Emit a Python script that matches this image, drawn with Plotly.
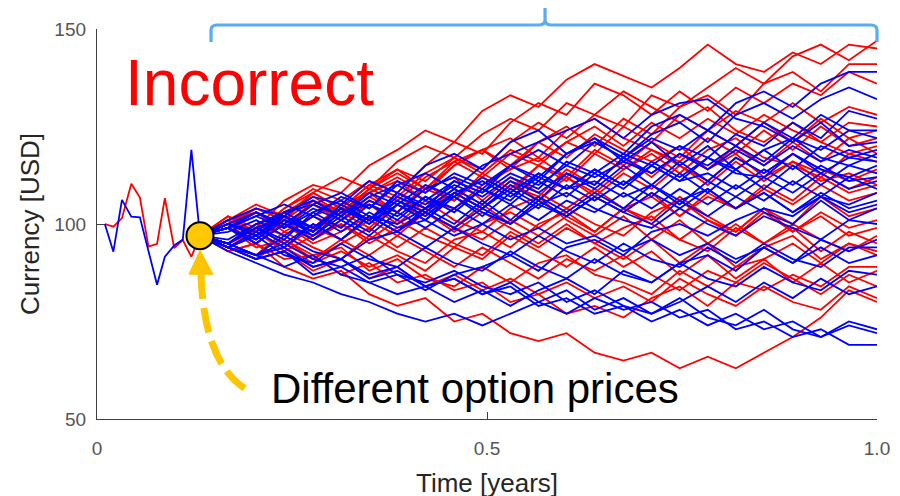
import plotly.graph_objects as go

# ---------------- data ----------------
T_PRE = [0.010, 0.021, 0.032, 0.044, 0.055, 0.066, 0.077, 0.087, 0.099, 0.110, 0.121, 0.132]
RED_PRE = [100, 99.3, 101.5, 110.3, 106.8, 94.2, 94.9, 106.6, 93.8, 95.9, 91.6, 97]
BLUE_PRE = [100, 92.9, 106.2, 101.9, 101.7, 93.0, 84.4, 91.6, 94.5, 96.0, 119.0, 97]

T = [0.132, 0.168, 0.204, 0.240, 0.277, 0.313, 0.349, 0.385, 0.421, 0.458, 0.494, 0.530, 0.566,
     0.602, 0.638, 0.675, 0.711, 0.747, 0.783, 0.819, 0.855, 0.892, 0.928, 0.964, 1.000]

RED_PATHS = [
    [97, 102, 99, 106, 110, 108, 115, 119, 124, 121, 129, 133, 130, 137, 141, 138, 135, 140, 146, 141, 139, 144, 141, 146, 145],
    [97, 100, 104, 101, 106, 103, 109, 114, 111, 117, 114, 121, 126, 122, 128, 125, 133, 130, 135, 140, 136, 143, 146, 142, 147],
    [97, 101, 98, 104, 109, 106, 111, 108, 115, 121, 118, 126, 131, 128, 136, 133, 128, 134, 129, 135, 131, 136, 133, 139, 136],
    [97, 99, 103, 99, 105, 102, 109, 106, 112, 116, 112, 118, 115, 121, 118, 125, 121, 128, 124, 129, 126, 131, 126, 130, 128],
    [97, 95, 100, 97, 102, 99, 106, 103, 109, 106, 112, 108, 115, 112, 119, 115, 121, 117, 124, 120, 126, 121, 127, 122, 124],
    [97, 101, 105, 102, 108, 112, 109, 116, 120, 117, 123, 127, 124, 131, 128, 134, 130, 126, 130, 124, 121, 126, 121, 118, 120],
    [97, 100, 95, 101, 98, 103, 99, 105, 102, 108, 104, 110, 107, 114, 110, 117, 112, 118, 114, 120, 115, 121, 116, 122, 118],
    [97, 99, 103, 100, 105, 101, 107, 103, 110, 106, 113, 109, 115, 111, 118, 114, 119, 115, 111, 117, 113, 118, 114, 111, 114],
    [97, 100, 97, 102, 99, 105, 101, 107, 103, 109, 105, 111, 106, 112, 107, 113, 109, 115, 110, 116, 111, 116, 113, 109, 112],
    [97, 95, 98, 94, 99, 96, 101, 97, 103, 99, 105, 100, 106, 102, 107, 103, 108, 102, 107, 104, 109, 105, 110, 106, 108],
    [97, 94, 98, 93, 97, 100, 96, 101, 97, 94, 100, 103, 99, 104, 100, 97, 103, 106, 101, 98, 104, 100, 107, 102, 104],
    [97, 100, 103, 98, 102, 105, 108, 103, 109, 112, 106, 112, 108, 104, 109, 104, 101, 107, 102, 98, 104, 98, 103, 99, 101],
    [97, 95, 99, 101, 96, 100, 95, 99, 103, 98, 103, 99, 95, 100, 95, 99, 102, 96, 93, 99, 95, 100, 96, 93, 97],
    [97, 99, 95, 100, 96, 101, 105, 100, 106, 101, 98, 104, 107, 101, 97, 102, 96, 101, 95, 100, 95, 99, 93, 98, 95],
    [97, 94, 91, 96, 91, 95, 99, 94, 99, 95, 92, 98, 94, 99, 95, 91, 96, 90, 95, 89, 94, 97, 91, 95, 93],
    [97, 95, 92, 94, 90, 93, 89, 92, 88, 94, 91, 97, 93, 89, 94, 89, 93, 87, 92, 86, 91, 85, 90, 85, 88],
    [97, 94, 91, 93, 88, 91, 86, 89, 84, 87, 83, 86, 82, 85, 81, 84, 80, 86, 82, 79, 84, 80, 78, 84, 81],
    [97, 93, 95, 89, 86, 88, 82, 79, 81, 75, 77, 72, 70, 72, 67, 65, 67, 63, 66, 63, 67, 71, 76, 83, 80],
    [97, 93, 95, 91, 92, 87, 90, 85, 87, 83, 85, 80, 82, 77, 79, 76, 81, 84, 79, 85, 83, 87, 84, 89, 89],
    [97, 101, 97, 103, 106, 103, 108, 112, 108, 115, 119, 114, 121, 125, 120, 127, 123, 130, 133, 128, 136, 139, 134, 141, 141],
    [97, 99, 94, 96, 92, 94, 88, 91, 86, 84, 89, 85, 90, 92, 87, 85, 82, 88, 84, 89, 91, 95, 90, 95, 92],
    [97, 100, 104, 101, 108, 104, 110, 114, 109, 116, 119, 122, 117, 124, 127, 122, 119, 116, 122, 118, 124, 119, 125, 120, 122],
    [97, 95, 92, 98, 94, 91, 97, 93, 90, 96, 98, 94, 100, 103, 98, 104, 107, 102, 108, 104, 110, 106, 112, 108, 110],
    [97, 101, 103, 99, 106, 102, 108, 111, 106, 104, 110, 114, 117, 112, 108, 114, 118, 113, 119, 122, 117, 115, 112, 118, 116],
    [97, 102, 98, 104, 108, 104, 110, 107, 113, 117, 113, 119, 116, 121, 125, 120, 126, 122, 127, 123, 128, 124, 121, 126, 125],
    [97, 94, 97, 100, 95, 98, 102, 98, 103, 99, 96, 101, 97, 102, 98, 104, 100, 96, 101, 97, 103, 98, 102, 97, 99],
    [97, 100, 98, 103, 107, 103, 109, 113, 109, 115, 119, 115, 121, 117, 123, 119, 116, 120, 114, 118, 112, 116, 111, 113, 110],
    [97, 95, 99, 95, 91, 96, 92, 97, 93, 89, 94, 90, 86, 91, 88, 92, 87, 83, 88, 85, 90, 86, 82, 87, 84],
]

BLUE_PATHS = [
    [97, 99, 102, 99, 104, 101, 106, 103, 109, 112, 109, 115, 112, 118, 122, 118, 125, 128, 124, 131, 134, 130, 136, 139, 139],
    [97, 95, 100, 102, 98, 104, 101, 108, 104, 111, 108, 115, 111, 118, 121, 117, 123, 126, 121, 128, 131, 127, 132, 135, 132],
    [97, 100, 97, 102, 99, 104, 101, 108, 105, 110, 107, 112, 109, 116, 113, 118, 115, 120, 117, 123, 120, 126, 122, 129, 127],
    [97, 99, 96, 101, 98, 105, 101, 107, 104, 109, 105, 111, 108, 113, 110, 117, 113, 118, 115, 120, 116, 122, 119, 124, 122],
    [97, 95, 99, 96, 103, 99, 105, 102, 107, 104, 109, 106, 113, 109, 114, 110, 116, 112, 117, 114, 119, 114, 120, 117, 119],
    [97, 100, 97, 102, 99, 104, 100, 106, 102, 108, 104, 110, 106, 113, 109, 115, 110, 116, 111, 117, 113, 118, 113, 117, 116],
    [97, 99, 95, 100, 97, 102, 98, 105, 101, 107, 102, 108, 104, 110, 106, 111, 107, 113, 108, 114, 109, 115, 110, 115, 113],
    [97, 94, 98, 94, 100, 96, 102, 98, 104, 100, 106, 101, 107, 103, 108, 104, 110, 105, 111, 107, 112, 108, 113, 109, 111],
    [97, 99, 95, 100, 96, 101, 97, 103, 99, 104, 100, 105, 101, 106, 103, 108, 104, 109, 105, 110, 106, 111, 107, 112, 109],
    [97, 95, 99, 95, 100, 96, 102, 98, 103, 99, 104, 100, 106, 102, 107, 103, 108, 104, 109, 104, 108, 103, 108, 104, 106],
    [97, 99, 96, 102, 98, 104, 100, 105, 101, 108, 104, 109, 105, 102, 107, 103, 100, 106, 102, 107, 103, 100, 106, 101, 104],
    [97, 95, 92, 97, 93, 91, 96, 98, 94, 99, 95, 92, 97, 93, 90, 95, 91, 89, 94, 90, 95, 91, 89, 94, 94],
    [97, 94, 97, 92, 90, 95, 91, 89, 94, 90, 88, 93, 89, 86, 91, 87, 85, 90, 86, 84, 89, 85, 83, 88, 87],
    [97, 94, 91, 93, 89, 91, 86, 88, 84, 86, 82, 85, 80, 83, 78, 81, 77, 80, 84, 80, 85, 81, 86, 82, 84],
    [97, 95, 92, 94, 89, 91, 87, 89, 84, 86, 82, 84, 79, 81, 77, 79, 75, 78, 74, 77, 73, 75, 71, 74, 72],
    [97, 93, 90, 87, 85, 82, 80, 77, 75, 77, 74, 77, 80, 77, 81, 78, 80, 76, 78, 73, 75, 71, 73, 69, 69],
    [97, 95, 92, 95, 91, 89, 92, 87, 85, 88, 84, 82, 85, 80, 83, 79, 77, 81, 76, 74, 78, 73, 71, 75, 73],
    [97, 100, 103, 99, 103, 106, 102, 100, 104, 107, 103, 100, 105, 108, 104, 101, 99, 104, 100, 97, 102, 99, 96, 101, 100],
    [97, 99, 102, 105, 102, 107, 104, 111, 108, 113, 110, 115, 119, 115, 121, 117, 122, 119, 124, 120, 126, 122, 128, 124, 124],
    [97, 95, 99, 102, 97, 103, 105, 101, 107, 103, 109, 105, 111, 107, 113, 109, 115, 111, 117, 113, 112, 118, 114, 112, 115],
    [97, 101, 104, 102, 107, 105, 111, 108, 115, 118, 114, 121, 124, 118, 122, 116, 121, 115, 120, 114, 119, 122, 117, 115, 118],
    [97, 94, 91, 93, 87, 89, 85, 87, 83, 87, 89, 92, 88, 94, 96, 92, 98, 100, 97, 101, 104, 102, 107, 105, 108],
    [97, 100, 97, 103, 105, 108, 104, 110, 113, 109, 115, 118, 121, 124, 127, 122, 128, 131, 132, 127, 125, 121, 126, 120, 121],
    [97, 94, 92, 89, 92, 87, 85, 82, 84, 80, 83, 79, 83, 86, 82, 88, 85, 90, 92, 88, 94, 90, 96, 93, 96],
    [97, 99, 103, 100, 105, 102, 107, 110, 106, 111, 108, 113, 110, 115, 112, 116, 113, 118, 114, 119, 115, 120, 116, 119, 117],
    [97, 96, 100, 103, 99, 104, 101, 106, 103, 108, 111, 107, 112, 109, 114, 110, 115, 111, 113, 109, 114, 110, 115, 111, 112],
    [97, 100, 98, 103, 106, 102, 108, 105, 110, 107, 112, 108, 113, 109, 111, 107, 110, 106, 109, 104, 108, 103, 107, 103, 105],
    [97, 98, 101, 97, 102, 98, 103, 99, 101, 97, 100, 96, 99, 95, 97, 93, 96, 92, 95, 91, 94, 90, 94, 90, 92],
]

DOT_T = [0.132]
DOT_V = [97]

X_TICKS = [0, 0.5, 1.0]
X_TICKTEXT = ["0", "0.5", "1.0"]
Y_TICKS = [50, 100, 150]
Y_TICKTEXT = ["50", "100", "150"]

RED = "#FF0000"
BLUE = "#0000FF"
FONT = "Liberation Sans, Arial, Helvetica, sans-serif"
LW = 1.8

# ---------------- figure ----------------
fig = go.Figure()

for p in RED_PATHS:
    fig.add_trace(go.Scatter(x=T, y=p, mode="lines", line=dict(color=RED, width=LW),
                             showlegend=False, hoverinfo="skip"))
for p in BLUE_PATHS:
    fig.add_trace(go.Scatter(x=T, y=p, mode="lines", line=dict(color=BLUE, width=LW),
                             showlegend=False, hoverinfo="skip"))

fig.add_trace(go.Scatter(x=T_PRE, y=RED_PRE, mode="lines", line=dict(color=RED, width=LW),
                         showlegend=False, hoverinfo="skip"))
fig.add_trace(go.Scatter(x=T_PRE, y=BLUE_PRE, mode="lines", line=dict(color=BLUE, width=LW),
                         showlegend=False, hoverinfo="skip"))

fig.add_trace(go.Scatter(x=DOT_T, y=DOT_V, mode="markers",
                         marker=dict(size=27, color="#FFC800", line=dict(color="black", width=2)),
                         showlegend=False, hoverinfo="skip"))

shapes = [
    # dashed curved arrow shaft (data coordinates)
    dict(type="path", xref="x", yref="y",
         path="M 0.1333,87.2 C 0.1359,70.15 0.1603,61.17 0.1936,57.32",
         line=dict(color="#FFC400", width=7, dash="25px,9px"), layer="above"),
    # arrow head
    dict(type="path", xref="x", yref="y",
         path="M 0.1179,87.1 L 0.1487,87.1 L 0.1321,93.3 Z",
         fillcolor="#FFC400", line=dict(color="#FFC400", width=1), layer="above"),
    # blue bracket above the plot (paper coordinates)
    dict(type="path", xref="paper", yref="paper",
         path=("M 0.1462,0.9666 L 0.1462,0.9975 Q 0.1462,1.0103 0.1540,1.0103 "
               "L 0.5660,1.0103 Q 0.5744,1.0103 0.5744,1.0240 L 0.5744,1.0590 "
               "M 0.5744,1.0240 Q 0.5744,1.0103 0.5828,1.0103 "
               "L 0.9922,1.0103 Q 1.0,1.0103 1.0,0.9975 L 1.0,0.9666"),
         line=dict(color="#5AAAF5", width=3.2), layer="above"),
]

annotations = [
    dict(text="Incorrect", xref="paper", yref="paper", x=0.0333, y=0.861,
         xanchor="left", yanchor="middle", showarrow=False,
         font=dict(family=FONT, size=64, color=RED)),
    dict(text="Different option prices", xref="paper", yref="paper", x=0.2205, y=0.078,
         xanchor="left", yanchor="middle", showarrow=False,
         font=dict(family=FONT, size=42, color="black")),
]

axis_common = dict(showline=True, linecolor="#404040", linewidth=1.3, ticks="inside",
                   ticklen=7, tickwidth=1.3, tickcolor="#404040", showgrid=False,
                   zeroline=False, mirror=False,
                   tickfont=dict(family=FONT, size=19, color="#555555"))

# the page body adds an 8px offset, so margins are shifted to keep the plot area in place
fig.update_layout(
    width=900, height=496,
    margin=dict(l=89, r=31, t=21, b=85),
    paper_bgcolor="white", plot_bgcolor="white",
    shapes=shapes, annotations=annotations,
    xaxis=dict(range=[0, 1], tickvals=X_TICKS, ticktext=X_TICKTEXT, ticklabelstandoff=12,
               title=dict(text="Time [years]", standoff=15,
                          font=dict(family=FONT, size=26, color="#262626")),
               **axis_common),
    yaxis=dict(range=[50, 150], tickvals=Y_TICKS, ticktext=Y_TICKTEXT, ticklabelstandoff=6,
               title=dict(text="Currency [USD]", standoff=7,
                          font=dict(family=FONT, size=26, color="#262626")),
               **axis_common),
)

fig.write_html("out.html")
